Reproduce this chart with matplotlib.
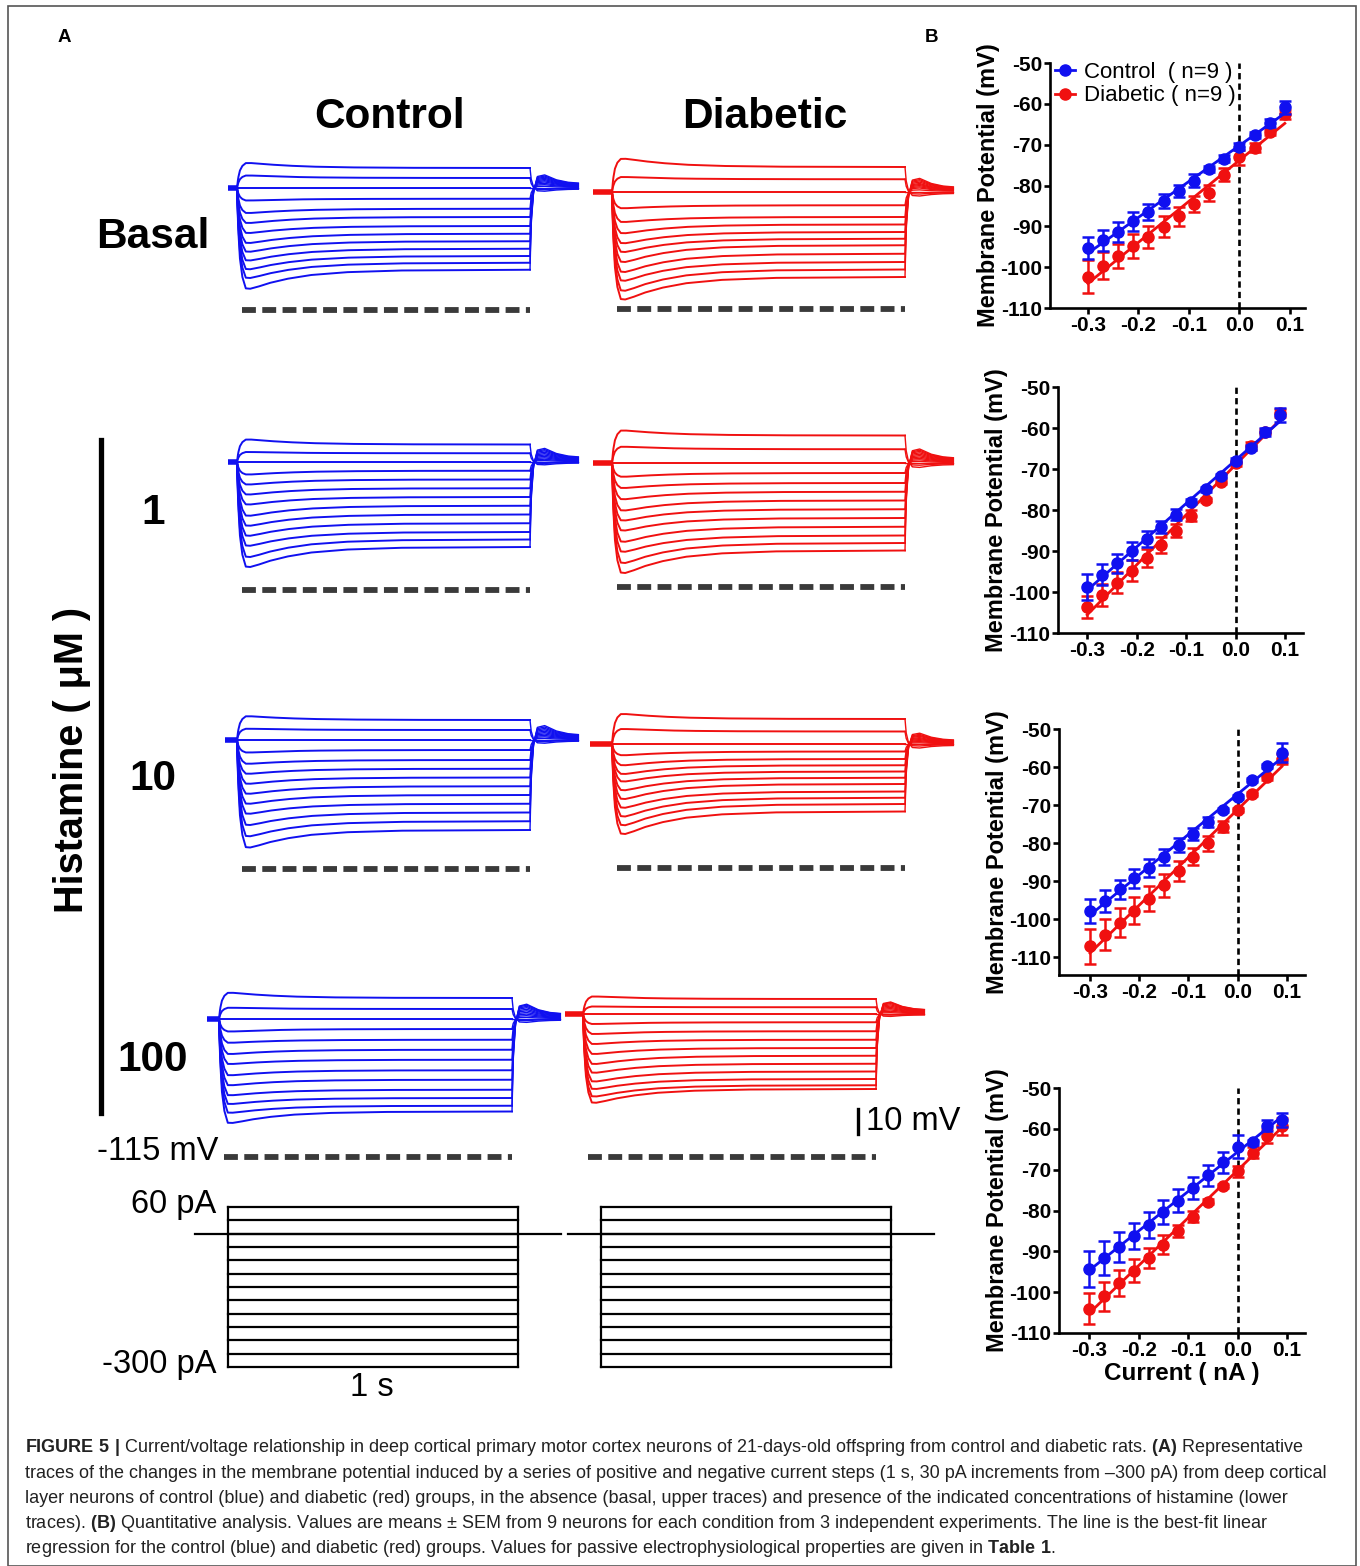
import matplotlib
matplotlib.use("Agg")
import matplotlib.pyplot as plt
import numpy as np
from matplotlib import font_manager
from matplotlib.lines import Line2D
from matplotlib.patches import Rectangle

_names = {f.name for f in font_manager.fontManager.ttflist}
CAP_FONT = 'Liberation Sans Narrow' if 'Liberation Sans Narrow' in _names else 'Liberation Sans'
plt.rcParams['font.family'] = ['Liberation Sans', 'DejaVu Sans']
plt.rcParams['mathtext.fontset'] = 'custom'
plt.rcParams['mathtext.bf'] = CAP_FONT + ':bold'
plt.rcParams['mathtext.rm'] = CAP_FONT
plt.rcParams['lines.scale_dashes'] = False
plt.rcParams['axes.unicode_minus'] = False

# ---------------- data ----------------
# panel B: I/V relationship (current in nA, membrane potential in mV, mean and SEM)
current_nA = [-0.30, -0.27, -0.24, -0.21, -0.18, -0.15, -0.12, -0.09, -0.06, -0.03, 0.00, 0.03, 0.06, 0.09]

basal_ctrl = [-95.4, -93.4, -91.4, -88.8, -86.5, -83.8, -81.4, -78.8, -76.0, -73.4, -70.5, -67.6, -64.6, -60.8]
basal_ctrl_err = [2.7, 2.6, 2.4, 2.3, 2.0, 1.8, 1.5, 1.5, 0.8, 0.8, 0.8, 0.8, 1.0, 1.6]
basal_diab = [-102.3, -99.7, -97.3, -94.8, -92.6, -90.1, -87.5, -84.6, -81.8, -77.4, -73.1, -70.7, -66.9, -62.6]
basal_diab_err = [4.0, 3.3, 3.0, 3.0, 2.6, 2.6, 2.3, 2.0, 2.0, 1.6, 1.8, 1.2, 0.8, 1.2]

his1_ctrl = [-98.7, -95.8, -93.0, -90.1, -87.1, -84.1, -81.1, -78.0, -74.9, -71.7, -68.0, -64.8, -60.9, -56.9]
his1_ctrl_err = [3.2, 2.6, 2.3, 2.2, 2.0, 1.5, 1.3, 0.6, 0.6, 0.6, 0.6, 0.6, 1.0, 1.7]
his1_diab = [-103.7, -100.7, -97.7, -94.8, -91.8, -88.5, -85.1, -81.4, -77.6, -73.1, -68.6, -64.4, -60.9, -56.4]
his1_diab_err = [2.7, 2.6, 2.5, 2.5, 2.2, 2.0, 1.6, 1.3, 0.5, 0.6, 0.6, 1.0, 0.6, 1.0]

his10_ctrl = [-97.9, -95.2, -92.2, -89.3, -86.5, -83.6, -80.5, -77.6, -74.4, -71.3, -67.9, -63.5, -59.7, -56.2]
his10_ctrl_err = [3.2, 2.9, 2.6, 2.6, 2.3, 2.1, 1.9, 1.6, 1.3, 0.5, 0.6, 0.5, 0.5, 2.4]
his10_diab = [-107.2, -104.1, -100.9, -97.8, -94.6, -91.1, -87.4, -83.6, -80.1, -75.7, -71.3, -67.1, -62.7, -57.9]
his10_diab_err = [4.5, 4.1, 3.8, 3.6, 3.2, 3.0, 2.7, 2.2, 2.0, 1.5, 0.6, 0.6, 0.6, 1.3]

his100_ctrl = [-94.3, -91.6, -88.9, -86.2, -83.5, -80.4, -77.6, -74.5, -71.4, -68.2, -64.4, -63.3, -59.2, -57.8]
his100_ctrl_err = [4.5, 4.1, 3.6, 3.2, 3.2, 3.0, 2.8, 2.6, 2.6, 2.6, 2.8, 0.6, 1.3, 1.7]
his100_diab = [-104.1, -101.0, -97.8, -94.7, -91.6, -88.4, -85.1, -81.5, -77.9, -74.0, -70.4, -65.8, -61.7, -59.4]
his100_diab_err = [3.8, 3.5, 3.2, 2.8, 2.5, 2.3, 1.5, 1.3, 0.6, 0.6, 1.3, 1.3, 1.7, 2.0]

# panel A: current steps (pA) and representative traces
step_pA = [60, 30, 0, -30, -60, -90, -120, -150, -180, -210, -240, -270, -300]
# resting potential of each representative cell (mV)
rest_mV = {'basal_c': -66.2, 'basal_d': -68.2, 'h1_c': -63.8, 'h1_d': -65.4,
           'h10_c': -63.4, 'h10_d': -65.4, 'h100_c': -59.8, 'h100_d': -57.8}
# steady-state deflection at the end of each step (mV from rest)
steady_mV = {
    'basal_c': [8.0, 4.0, 0, -4.3, -8.3, -11.6, -15.2, -18.3, -21.3, -24.3, -27.2, -29.9, -32.7],
    'basal_d': [10.0, 5.1, 0, -5.3, -10.0, -13.0, -16.0, -18.7, -21.3, -24.7, -28.0, -31.0, -34.0],
    'h1_c': [7.0, 3.5, 0, -3.5, -7.0, -10.5, -14.0, -17.5, -21.0, -24.5, -28.0, -31.0, -34.0],
    'h1_d': [11.0, 5.5, 0, -4.0, -8.0, -11.5, -15.0, -18.5, -22.0, -25.5, -29.0, -32.0, -35.0],
    'h10_c': [8.0, 4.0, 0, -4.0, -8.0, -11.5, -15.0, -18.5, -22.0, -25.5, -29.0, -32.5, -36.0],
    'h10_d': [10.0, 5.0, 0, -3.0, -6.0, -8.5, -11.0, -13.5, -16.0, -19.0, -21.5, -24.0, -27.0],
    'h100_c': [8.4, 4.0, 0, -4.0, -8.3, -12.3, -16.3, -20.5, -24.3, -28.3, -31.6, -34.7, -37.0],
    'h100_d': [6.0, 2.7, 0, -3.3, -6.9, -10.3, -13.6, -16.7, -19.9, -23.0, -26.0, -28.5, -30.0],
}
# early peak (sag) deflection (mV from rest)
peak_mV = {
    'basal_c': [10.0, 5.0, 0, -5.0, -10.0, -14.0, -18.0, -22.0, -25.5, -29.0, -32.5, -36.0, -40.3],
    'basal_d': [13.3, 6.0, 0, -6.5, -12.0, -16.5, -20.5, -24.0, -28.0, -32.0, -35.5, -39.5, -43.0],
    'h1_c': [9.0, 4.0, 0, -5.0, -9.0, -13.0, -17.0, -21.5, -25.5, -29.5, -33.5, -38.0, -42.0],
    'h1_d': [13.0, 6.5, 0, -5.5, -10.0, -14.5, -19.0, -23.0, -27.0, -31.5, -35.5, -40.0, -44.0],
    'h10_c': [9.5, 4.5, 0, -5.0, -9.5, -13.5, -17.5, -21.5, -25.5, -29.5, -34.0, -38.5, -43.0],
    'h10_d': [12.0, 6.0, 0, -4.5, -8.5, -12.0, -15.0, -18.5, -22.0, -25.5, -29.0, -32.5, -36.0],
    'h100_c': [10.5, 4.5, 0, -5.0, -9.5, -14.0, -18.0, -22.5, -26.5, -30.5, -34.0, -37.5, -41.6],
    'h100_d': [7.0, 3.0, 0, -4.0, -8.0, -12.0, -16.0, -20.0, -23.5, -27.0, -30.0, -33.0, -35.5],
}
# time course (fraction of deflection vs time, s)
onset_t = [0.0, 0.004, 0.01, 0.018, 0.03, 1.0]
onset_f = [0.0, 0.40, 0.70, 0.88, 1.0, 1.0]
sag_t = [0.0, 0.004, 0.01, 0.018, 0.03, 0.045, 0.07, 0.11, 0.17, 0.25, 0.37, 0.55, 1.0]
sag_f = [0.0, 0.40, 0.70, 0.88, 0.98, 1.0, 0.90, 0.70, 0.48, 0.28, 0.13, 0.04, 0.0]
off_t = [1.0, 1.004, 1.012, 1.025, 1.05, 1.09, 1.13, 1.165]
off_f = [1.0, 0.45, 0.05, -0.14, -0.16, -0.10, -0.07, -0.06]

BLUE = '#1010f0'
RED = '#f01010'
DASH = '#3a3a3a'

W, H = 1360, 1566
fig = plt.figure(figsize=(W / 100, H / 100), dpi=100)


def px_axes(x0, y0, x1, y1):
    return fig.add_axes([x0 / W, 1 - y1 / H, (x1 - x0) / W, (y1 - y0) / H])


def ftext(x, y, s, **kw):
    return fig.text(x / W, 1 - y / H, s, **kw)


# ---------------- panel A: traces ----------------
PX_S = 293.0
PX_MV = 2.5
t_step = np.linspace(0, 1.0, 600)
t_off = np.linspace(1.0, off_t[-1], 80)


def trace_block(key, onset_x, base_y, color, pre):
    v0 = rest_mV[key]
    t0, t1 = -0.15, 1.25
    vtop, vbot = v0 + 22, -119
    ax = px_axes(onset_x + t0 * PX_S, base_y - 22 * PX_MV,
                 onset_x + t1 * PX_S, base_y + (v0 - vbot) * PX_MV)
    ax.set_xlim(t0, t1)
    ax.set_ylim(vbot, vtop)
    ax.axis('off')
    on = np.interp(t_step, onset_t, onset_f)
    sg = np.interp(t_step, sag_t, sag_f)
    of = np.interp(t_off, off_t, off_f)
    for ss, pk in zip(steady_mV[key], peak_mV[key]):
        v = v0 + ss * on + (pk - ss) * sg
        ax.plot(t_step, v, color=color, lw=1.4)
        ax.plot(t_off, v0 + ss * of, color=color, lw=1.0)
    ax.plot([-pre, 0], [v0, v0], color=color, lw=4, solid_capstyle='butt')
    ax.plot([0.017, 1.0], [-115, -115], color=DASH, lw=4.2, dashes=(10, 4.6),
            solid_capstyle='butt')
    return ax


trace_block('basal_c', 237, 188, BLUE, 0.03)
trace_block('basal_d', 612, 192, RED, 0.065)
trace_block('h1_c', 237, 462, BLUE, 0.03)
trace_block('h1_d', 612, 463, RED, 0.065)
trace_block('h10_c', 237, 740, BLUE, 0.04)
trace_block('h10_d', 612, 744, RED, 0.075)
trace_block('h100_c', 219, 1019, BLUE, 0.04)
trace_block('h100_d', 583, 1014, RED, 0.06)

# current step protocol
PX_PA = 160 / 360.0
for onset_x in (228, 601):
    ax = px_axes(onset_x - 0.15 * PX_S, 1207 - 20 * PX_PA, onset_x + 1.25 * PX_S, 1367 + 20 * PX_PA)
    ax.set_xlim(-0.15, 1.25)
    ax.set_ylim(-320, 80)
    ax.axis('off')
    ax.plot([-0.113, 1.137], [0, 0], color='black', lw=1.6)
    for i in step_pA:
        ax.plot([0, 0.99], [i, i], color='black', lw=1.6)
    ax.plot([0, 0], [min(step_pA), max(step_pA)], color='black', lw=1.6)
    ax.plot([0.99, 0.99], [min(step_pA), max(step_pA)], color='black', lw=1.6)

# panel A labels
BIG = dict(fontsize=30.5, fontweight='bold', ha='center', va='center')
ftext(390, 117, 'Control', **BIG)
ftext(765, 117, 'Diabetic', **BIG)
ftext(153, 237, 'Basal', **BIG)
ftext(153, 513, '1', **BIG)
ftext(153, 779, '10', **BIG)
ftext(153, 1060, '100', **BIG)
ftext(72, 760, 'Histamine ( μM )', rotation=90, fontsize=28.5, fontweight='bold',
      ha='center', va='center')
fig.add_artist(Line2D([101 / W, 101 / W], [1 - 440 / H, 1 - 1113 / H], color='black', lw=3.8))

MID = dict(fontsize=23.5, va='center')
ftext(218, 1152, '-115 mV', ha='right', **MID)
ftext(216, 1205, '60 pA', ha='right', **MID)
ftext(217, 1365, '-300 pA', ha='right', **MID)
ftext(372, 1387, '1 s', ha='center', **MID)
ftext(866, 1121, '10 mV', ha='left', **MID)
fig.add_artist(Line2D([858 / W, 858 / W], [1 - 1109 / H, 1 - 1134 / H], color='black', lw=2.4))

ftext(64, 37, 'A', fontsize=13.5, fontweight='bold', ha='center', va='center')
ftext(932, 37, 'B', fontsize=13.5, fontweight='bold', ha='center', va='center')

# ---------------- panel B: I/V plots ----------------
B_LAYOUT = [
    ((1050, 63, 1305, 308), (-110, -50), (-0.375, 0.13)),
    ((1058, 387, 1303, 633), (-110, -50), (-0.359, 0.136)),
    ((1059, 729, 1305, 975), (-114.7, -50), (-0.363, 0.137)),
    ((1059, 1088, 1305, 1333), (-110, -50), (-0.361, 0.136)),
]
iv_sets = [
    (basal_ctrl, basal_ctrl_err, basal_diab, basal_diab_err),
    (his1_ctrl, his1_ctrl_err, his1_diab, his1_diab_err),
    (his10_ctrl, his10_ctrl_err, his10_diab, his10_diab_err),
    (his100_ctrl, his100_ctrl_err, his100_diab, his100_diab_err),
]
x_iv = np.array(current_nA)
for k, ((box, ylim, xlim), (c, ce, d, de)) in enumerate(zip(B_LAYOUT, iv_sets)):
    ax = px_axes(*box)
    ax.set_xlim(*xlim)
    ax.set_ylim(*ylim)
    for s in ('top', 'right'):
        ax.spines[s].set_visible(False)
    for s in ('left', 'bottom'):
        ax.spines[s].set_linewidth(1.9)
    ax.axvline(0, color='black', lw=1.9, dashes=(4.5, 3.0))
    for y, e, col, z in ((d, de, RED, 3), (c, ce, BLUE, 4)):
        fit = np.polyfit(x_iv, y, 1)
        xx = np.array([x_iv[0], x_iv[-1]])
        ax.plot(xx, np.polyval(fit, xx), color=col, lw=2.0, zorder=z)
        ax.errorbar(x_iv, y, yerr=e, fmt='o', color=col, ms=8, capsize=4.5,
                    elinewidth=1.8, capthick=1.8, zorder=z)
    ax.set_yticks([-50, -60, -70, -80, -90, -100, -110])
    ax.set_xticks([-0.3, -0.2, -0.1, 0.0, 0.1])
    ax.set_xticklabels(['-0.3', '-0.2', '-0.1', '0.0', '0.1'])
    ax.tick_params(direction='out', length=4, width=1.9, labelsize=15, pad=1.5)
    for lab in ax.get_xticklabels() + ax.get_yticklabels():
        lab.set_fontweight('bold')
    ax.set_ylabel('Membrane Potential (mV)', fontsize=17, fontweight='bold', labelpad=0)
    if k == 0:
        handles = [Line2D([], [], color=BLUE, marker='o', ms=8, lw=2),
                   Line2D([], [], color=RED, marker='o', ms=8, lw=2)]
        ax.legend(handles, ['Control  ( n=9 )', 'Diabetic ( n=9 )'], loc='upper left',
                  bbox_to_anchor=(0.02, 1.005), frameon=False, fontsize=16,
                  handlelength=0.9, handletextpad=0.4, labelspacing=0.12,
                  borderpad=0, borderaxespad=0)
    if k == 3:
        ax.set_xlabel('Current ( nA )', fontsize=17.5, fontweight='bold', labelpad=2)

# ---------------- caption ----------------
CAP = dict(fontsize=13, family=[CAP_FONT, 'DejaVu Sans'], va='center', ha='left', color='#222222')
cap_lines = [
    r'$\mathbf{FIGURE\ 5\ |}$ Current/voltage relationship in deep cortical primary motor cortex neurons of 21-days-old offspring from control and diabetic rats. $\mathbf{(A)}$ Representative',
    'traces of the changes in the membrane potential induced by a series of positive and negative current steps (1 s, 30 pA increments from \u2013300 pA) from deep cortical',
    'layer neurons of control (blue) and diabetic (red) groups, in the absence (basal, upper traces) and presence of the indicated concentrations of histamine (lower',
    r'traces). $\mathbf{(B)}$ Quantitative analysis. Values are means ' + '\u00b1' + ' SEM from 9 neurons for each condition from 3 independent experiments. The line is the best-fit linear',
    r'regression for the control (blue) and diabetic (red) groups. Values for passive electrophysiological properties are given in $\mathbf{Table\ 1}$.',
]
for i, s in enumerate(cap_lines):
    ftext(25, 1448 + 25.2 * i, s, **CAP)

# figure frame
fig.add_artist(Rectangle((8 / W, 0), (1356 - 8) / W, 1 - 6 / H, transform=fig.transFigure,
                         fill=False, edgecolor='#555555', lw=1.2))

fig.savefig('out.png', dpi=100)
